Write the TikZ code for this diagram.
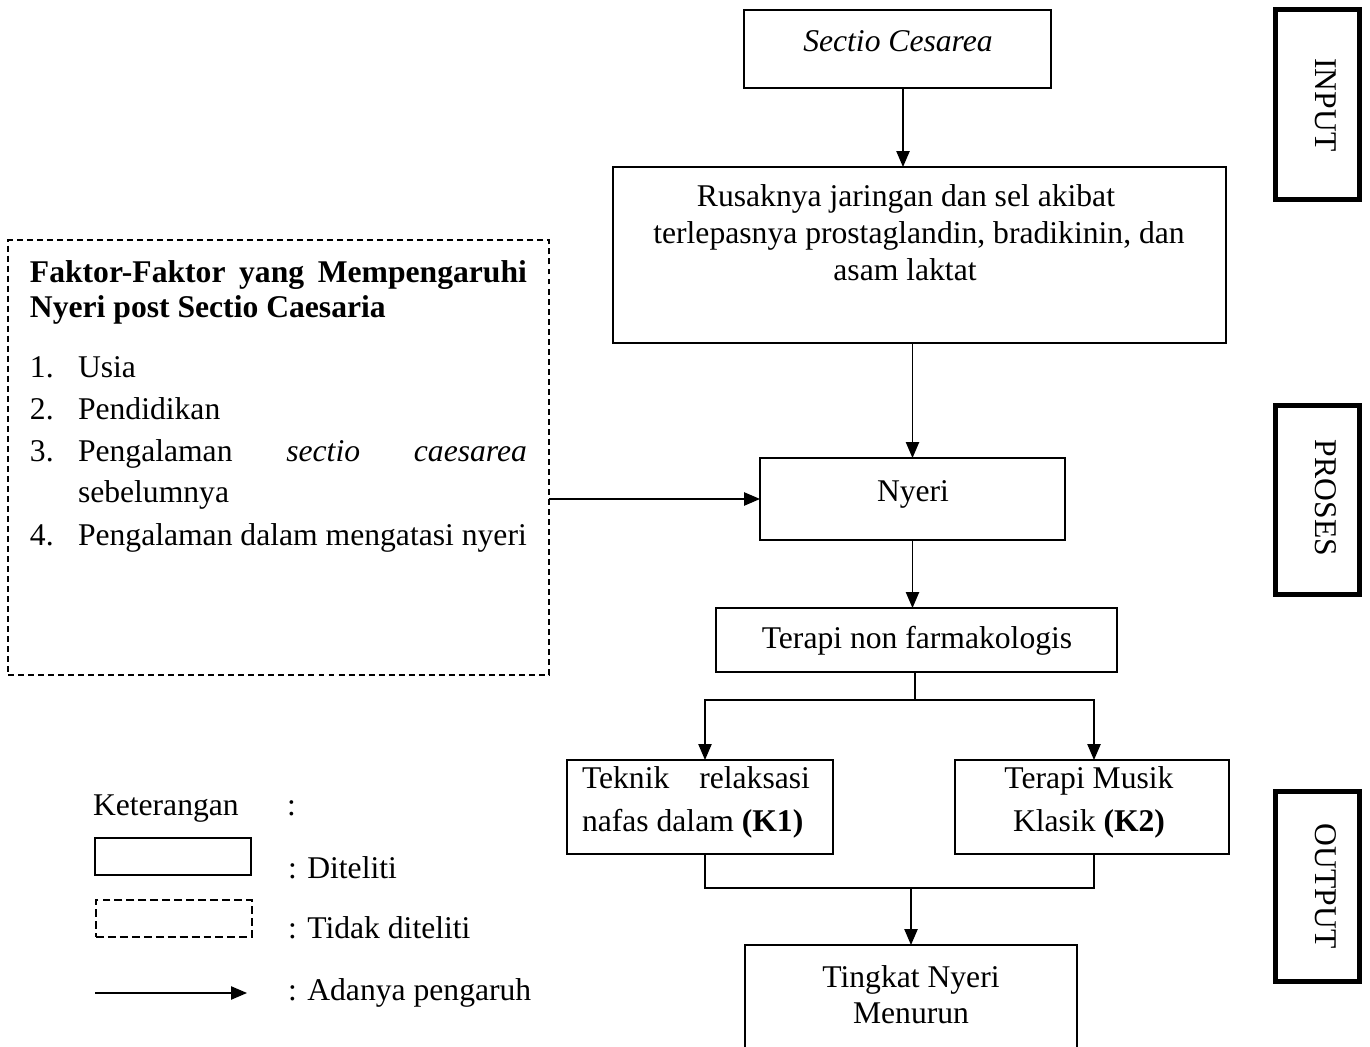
\documentclass[tikz,border=0pt]{standalone}
\usepackage{fontspec}
\setmainfont{Liberation Serif}
\usetikzlibrary{arrows.meta}
\begin{document}
\begin{tikzpicture}[x=0.02cm,y=-0.02cm,
  box/.style={draw,line width=1.1pt,rectangle,inner sep=0pt,outer sep=0pt},
  thickbox/.style={draw,line width=2.9pt,rectangle,inner sep=0pt,outer sep=0pt,minimum width=1.68cm},
  dashbox/.style={draw,line width=0.9pt,rectangle,inner sep=0pt,outer sep=0pt,dash pattern=on 3.4pt off 2.3pt},
  legdash/.style={draw,line width=1.1pt,rectangle,inner sep=0pt,outer sep=0pt,dash pattern=on 4.5pt off 2.3pt},
  conn/.style={line width=0.75pt},
  arr/.style={line width=0.75pt,-{Triangle[length=9pt,width=7.5pt]}},
  txt/.style={font=\fontsize{18}{21}\selectfont,inner sep=0pt,outer sep=0pt,anchor=base},
  txtl/.style={txt,anchor=base west},
  side/.style={txt,rotate=-90}]
\useasboundingbox (0,0) rectangle (1370,1047);
\clip (0,0) rectangle (1370,1047);

% main boxes
\node[box,minimum width=6.14cm,minimum height=1.56cm] (sectio) at (897.5,49) {};
\node[box,minimum width=12.26cm,minimum height=3.52cm] (rusak) at (919.5,255) {};
\node[box,minimum width=6.10cm,minimum height=1.64cm] (nyeri) at (912.5,499) {};
\node[box,minimum width=8.02cm,minimum height=1.28cm] (terapi) at (916.5,640) {};
\node[box,minimum width=5.32cm,minimum height=1.88cm] (k1) at (700,807) {};
\node[box,minimum width=5.48cm,minimum height=1.88cm] (k2) at (1092,807) {};
\node[box,minimum width=6.64cm,minimum height=2.6cm] (tingkat) at (911,1010) {};
\node[dashbox,minimum width=10.82cm,minimum height=8.70cm] (faktor) at (278.5,457.5) {};

% side boxes
\node[thickbox,minimum height=3.80cm] (input) at (1317.5,104.5) {};
\node[thickbox,minimum height=3.78cm] (proses) at (1317.5,500) {};
\node[thickbox,minimum height=3.80cm] (output) at (1317.5,886.5) {};
\node[side] (tinput) at (1315,105) {INPUT};
\node[side] (tproses) at (1315,498) {PROSES};
\node[side] (toutput) at (1315,886) {OUTPUT};

% texts in boxes
\node[txt] (tsectio) at (898,52) {\textit{Sectio Cesarea}};
\node[txt] (tr1) at (906,207) {Rusaknya jaringan dan sel akibat};
\node[txt] (tr2) at (919,244) {terlepasnya prostaglandin, bradikinin, dan};
\node[txt] (tr3) at (905,281) {asam laktat};
\node[txt] (tnyeri) at (913,501) {Nyeri};
\node[txt] (tterapi) at (917,648) {Terapi non farmakologis};
\node[txtl] (tk1a) at (582,788) {\makebox[4.56cm][s]{Teknik relaksasi}};
\node[txtl] (tk1b) at (582,831) {nafas dalam \textbf{(K1)}};
\node[txt] (tk2a) at (1089,788) {Terapi Musik};
\node[txt] (tk2b) at (1089,831) {Klasik \textbf{(K2)}};
\node[txt] (ttg1) at (911,987) {Tingkat Nyeri};
\node[txt] (ttg2) at (911,1023) {Menurun};

% factor box contents
\node[txtl] (th1) at (30,283) {\bfseries\makebox[9.94cm][s]{Faktor-Faktor yang Mempengaruhi}};
\node[txtl] (th2) at (30,318) {\bfseries Nyeri post Sectio Caesaria};
\node[txtl] (n1) at (30,378) {1.};
\node[txtl] (i1) at (78,378) {Usia};
\node[txtl] (n2) at (30,420) {2.};
\node[txtl] (i2) at (78,420) {Pendidikan};
\node[txtl] (n3) at (30,462) {3.};
\node[txtl] (i3a) at (78,462) {\makebox[8.98cm][s]{Pengalaman \textit{sectio} \textit{caesarea}}};
\node[txtl] (i3b) at (78,503) {sebelumnya};
\node[txtl] (n4) at (30,545) {4.};
\node[txtl] (i4) at (78,545) {Pengalaman dalam mengatasi nyeri};

% connectors
\coordinate (s1) at ([xshift=0.11cm]sectio.south);
\draw[arr] (s1) -- (s1 |- rusak.north);
\draw[arr] (nyeri.north |- rusak.south) -- (nyeri.north);
\draw[arr] (faktor.east |- nyeri.west) -- (nyeri.west);
\draw[arr] (nyeri.south) -- (nyeri.south |- terapi.north);
\coordinate (k1n) at ([xshift=0.1cm]k1.north);
\coordinate (k2n) at ([xshift=0.04cm]k2.north);
\draw[conn] ([xshift=-0.03cm]terapi.south) -- ++(0,28) coordinate (j1);
\draw[arr] (j1) -| (k1n);
\draw[arr] (j1) -| (k2n);
\coordinate (k1s) at ([xshift=0.1cm]k1.south);
\coordinate (k2s) at ([xshift=0.04cm]k2.south);
\draw[conn] (k1s) -- ++(0,34) coordinate (b1) -| (k2s);
\draw[arr] (b1 -| tingkat.north) -- (tingkat.north);

% legend
\node[txtl] (lket) at (93,815) {Keterangan};
\node[txtl] (lcol) at (287,815) {:};
\node[box,minimum width=3.12cm,minimum height=0.74cm] (lsolid) at (173,856.5) {};
\node[txtl] (ldit) at (288,878) {: Diteliti};
\node[legdash,minimum width=3.12cm,minimum height=0.74cm] (ldash) at (174,918.5) {};
\node[txtl] (ltdk) at (288,938) {: Tidak diteliti};
\coordinate (la) at (95,993);
\coordinate (lb) at (247,993);
\draw[arr] (la) -- (lb);
\node[txtl] (lada) at (288,1000) {: Adanya pengaruh};
\end{tikzpicture}
\end{document}
